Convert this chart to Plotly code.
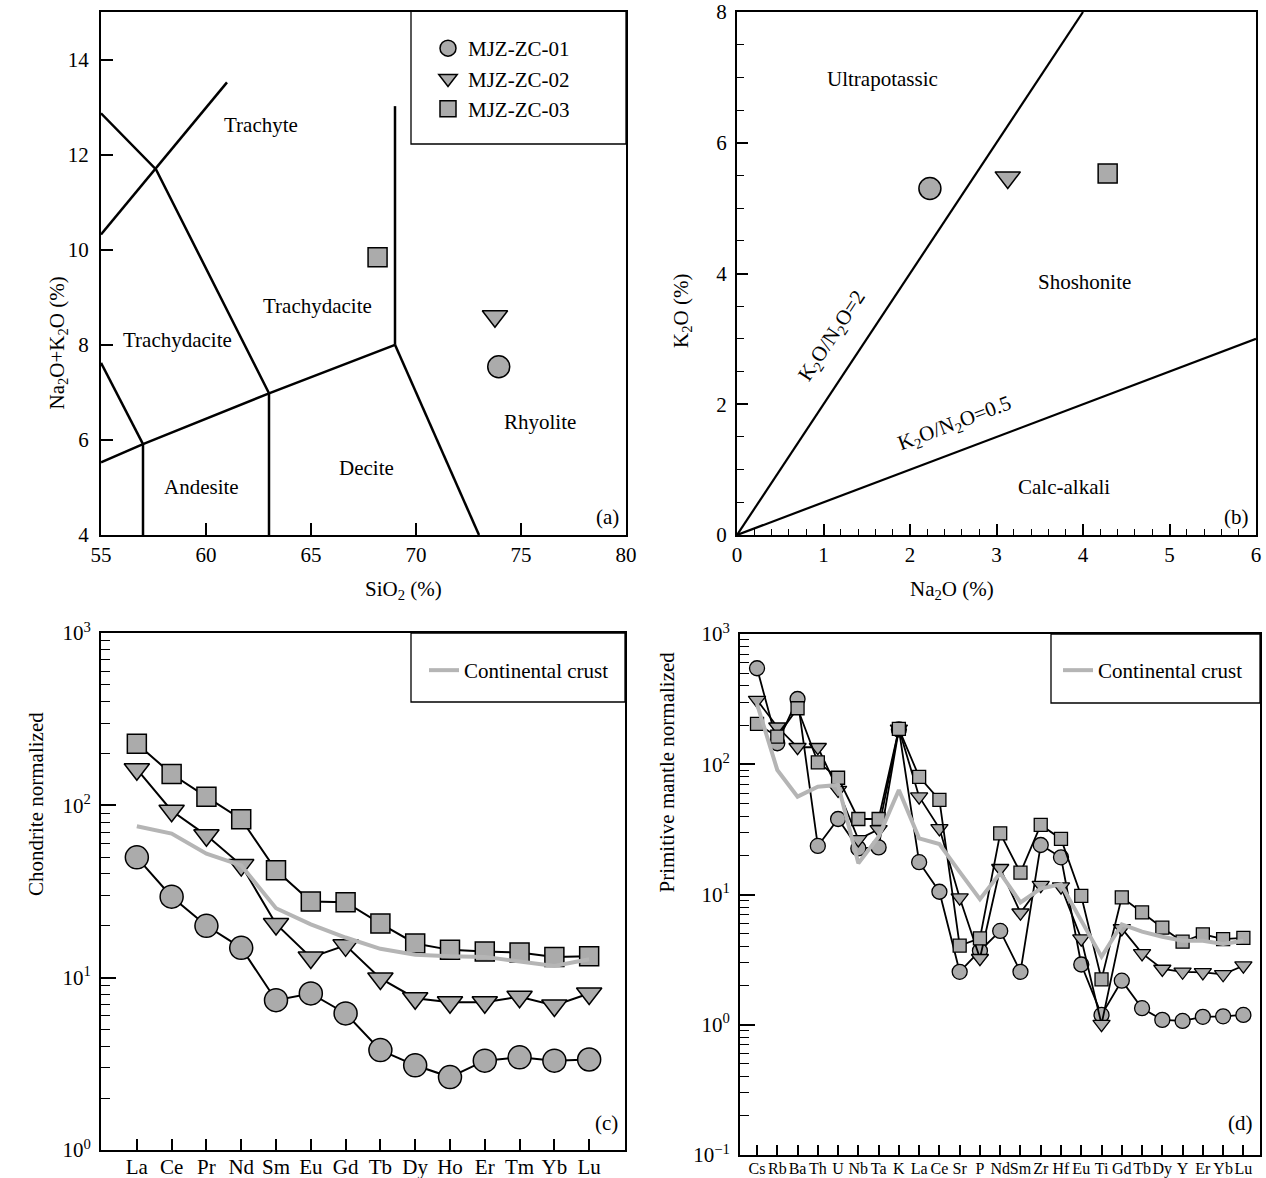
import plotly.graph_objects as go

FONT = "Liberation Serif"
GRAY = "#ababab"
CRUST = "#b5b5b5"
W, H = 1266, 1178

# ---------------- data ----------------
samples = ["MJZ-ZC-01", "MJZ-ZC-02", "MJZ-ZC-03"]
symbols = ["circle", "triangle-down", "square"]

# (a) TAS
sio2 = [73.94, 73.76, 68.17]
alkali = [7.54, 8.60, 9.84]

tas_x = [[55, 57.62, 63.0], [55, 61.0], [55, 57.0], [55, 57.0, 63.0, 69.0],
         [57.0, 57.0], [63.0, 63.0], [69.0, 69.0], [69.0, 73.0]]
tas_y = [[12.87, 11.69, 6.98], [10.32, 13.52], [7.62, 5.91], [5.53, 5.91, 6.98, 8.0],
         [5.91, 4.0], [6.98, 4.0], [8.0, 13.02], [8.0, 4.0]]
tas_names = ["Trachyte", "Trachydacite", "Trachydacite", "Andesite", "Decite", "Rhyolite"]
tas_name_x = [62.6, 65.3, 58.66, 59.8, 67.65, 75.9]
tas_name_y = [12.63, 8.81, 8.11, 5.0, 5.41, 6.38]

# (b) K2O vs Na2O
na2o = [2.23, 3.13, 4.285]
k2o = [5.30, 5.47, 5.53]
ratio_x = [[0, 4.0], [0, 6.0]]
ratio_y = [[0, 8.0], [0, 3.0]]
series_names = ["Ultrapotassic", "Shoshonite", "Calc-alkali"]
series_x = [1.68, 4.02, 3.78]
series_y = [6.98, 3.87, 0.73]

# (c) chondrite-normalized REE
ree = ["La", "Ce", "Pr", "Nd", "Sm", "Eu", "Gd", "Tb", "Dy", "Ho", "Er", "Tm", "Yb", "Lu"]
ree_01 = [49.9, 29.5, 20.0, 14.9, 7.4, 8.1, 6.2, 3.8, 3.1, 2.65, 3.3, 3.45, 3.3, 3.35]
ree_02 = [162, 93, 67, 45, 20.5, 13.1, 15.4, 9.9, 7.6, 7.2, 7.2, 7.75, 6.9, 8.1]
ree_03 = [228, 152, 112, 83, 42, 27.7, 27.4, 20.6, 15.8, 14.5, 14.2, 14.0, 13.2, 13.3]
ree_crust = [75.7, 68.6, 52.4, 44.8, 25.3, 20.4, 17.1, 14.7, 13.6, 13.3, 13.2, 12.5, 11.7, 12.8]

# (d) primitive-mantle-normalized spider diagram
spider = ["Cs", "Rb", "Ba", "Th", "U", "Nb", "Ta", "K", "La", "Ce", "Sr", "P", "Nd",
          "Sm", "Zr", "Hf", "Eu", "Ti", "Gd", "Tb", "Dy", "Y", "Er", "Yb", "Lu"]
sp_01 = [546, 145, 317, 23.6, 38, 22.6, 23.0, 185, 17.7, 10.5, 2.55, 3.7, 5.25, 2.55,
         24.0, 19.3, 2.9, 1.19, 2.18, 1.34, 1.09, 1.07, 1.15, 1.16, 1.19]
sp_02 = [311, 194, 135, 135, 63.4, 26.5, 31.6, 187, 56.4, 32.2, 9.45, 3.24, 15.9, 7.24,
         11.8, 11.5, 4.58, 1.01, 5.5, 3.53, 2.68, 2.55, 2.52, 2.44, 2.84]
sp_03 = [204, 163, 269, 103.5, 78.8, 38.0, 38.0, 187, 80, 53.2, 4.05, 4.61, 29.5, 14.7,
         34.2, 26.7, 9.75, 2.23, 9.5, 7.29, 5.56, 4.34, 4.95, 4.55, 4.65]
sp_crust = [290, 90.4, 56.4, 67.3, 69.3, 17.4, 27.8, 63.4, 27.0, 24.4, 14.9, 9.2, 14.6,
            8.7, 11.1, 12.0, 6.3, 3.33, 5.9, 5.19, 4.74, 4.42, 4.42, 4.17, 4.42]

# ---------------- figure ----------------
fig = go.Figure()

def px_x(p):
    return p / W

def px_y(p):
    return 1 - p / H

# (a) boundaries
for xs, ys in zip(tas_x, tas_y):
    fig.add_trace(go.Scatter(x=xs, y=ys, mode="lines", line=dict(color="black", width=2.5),
                             showlegend=False, hoverinfo="skip", xaxis="x", yaxis="y"))
sizes_ab = [22, 22, 19]
for i in range(3):
    fig.add_trace(go.Scatter(x=[sio2[i]], y=[alkali[i]], mode="markers", name=samples[i],
                             marker=dict(symbol=symbols[i], size=sizes_ab[i], color=GRAY,
                                         line=dict(color="black", width=1.5)),
                             xaxis="x", yaxis="y", legend="legend"))
# (b) lines and points
for xs, ys in zip(ratio_x, ratio_y):
    fig.add_trace(go.Scatter(x=xs, y=ys, mode="lines", line=dict(color="black", width=2.2),
                             showlegend=False, hoverinfo="skip", xaxis="x2", yaxis="y2"))
for i in range(3):
    fig.add_trace(go.Scatter(x=[na2o[i]], y=[k2o[i]], mode="markers", showlegend=False,
                             marker=dict(symbol=symbols[i], size=sizes_ab[i], color=GRAY,
                                         line=dict(color="black", width=1.5)),
                             xaxis="x2", yaxis="y2"))
# (c)
sizes_c = [23, 22, 19]
for vals, sym, sz in zip([ree_01, ree_02, ree_03], symbols, sizes_c):
    fig.add_trace(go.Scatter(x=ree, y=vals, mode="lines+markers", showlegend=False,
                             line=dict(color="black", width=2),
                             marker=dict(symbol=sym, size=sz, color=GRAY,
                                         line=dict(color="black", width=1.5)),
                             xaxis="x3", yaxis="y3"))
fig.add_trace(go.Scatter(x=ree, y=ree_crust, mode="lines", name="Continental crust",
                         line=dict(color=CRUST, width=4), xaxis="x3", yaxis="y3",
                         legend="legend2"))
# (d)
sizes_d = [15, 15, 13]
for vals, sym, sz in zip([sp_01, sp_02, sp_03], symbols, sizes_d):
    fig.add_trace(go.Scatter(x=spider, y=vals, mode="lines+markers", showlegend=False,
                             line=dict(color="black", width=1.8),
                             marker=dict(symbol=sym, size=sz, color=GRAY,
                                         line=dict(color="black", width=1.3)),
                             xaxis="x4", yaxis="y4"))
fig.add_trace(go.Scatter(x=spider, y=sp_crust, mode="lines", name="Continental crust",
                         line=dict(color=CRUST, width=4), xaxis="x4", yaxis="y4",
                         legend="legend3"))

tickfont = dict(family=FONT, size=21, color="black")
common = dict(showline=True, mirror=True, linecolor="black", linewidth=2, ticks="inside",
              tickcolor="black", tickwidth=1.5, showgrid=False, zeroline=False,
              tickfont=tickfont, automargin=False)

dom_a_x = [px_x(101), px_x(626)]
dom_b_x = [px_x(737), px_x(1256)]
dom_top_y = [px_y(535), px_y(12)]
dom_c_x = [px_x(101), px_x(625)]
dom_c_y = [px_y(1150), px_y(633)]
dom_d_x = [px_x(740), px_x(1260)]
dom_d_y = [px_y(1155), px_y(634)]

minor_c = [m * 10 ** k for k in range(0, 3) for m in range(2, 10)]
minor_d = [m * 10.0 ** k for k in range(-1, 3) for m in range(2, 10)]

fig.update_layout(
    width=W, height=H, margin=dict(l=0, r=0, t=0, b=0),
    paper_bgcolor="white", plot_bgcolor="white",
    font=dict(family=FONT, size=21, color="black"),
    xaxis=dict(common, domain=dom_a_x, range=[55, 80], tickvals=[55, 60, 65, 70, 75, 80],
               ticklen=12, anchor="y"),
    yaxis=dict(common, domain=dom_top_y, range=[4, 15], tickvals=[4, 6, 8, 10, 12, 14],
               ticklen=12, anchor="x", ticklabelstandoff=6),
    xaxis2=dict(common, domain=dom_b_x, range=[0, 6], dtick=1, ticklen=11, anchor="y2",
                minor=dict(dtick=0.2, ticks="inside", ticklen=6, tickcolor="black", tickwidth=1.2)),
    yaxis2=dict(common, domain=dom_top_y, range=[0, 8], dtick=2, ticklen=11, anchor="x2",
                ticklabelstandoff=4,
                minor=dict(dtick=0.5, ticks="inside", ticklen=7, tickcolor="black", tickwidth=1.2)),
    xaxis3=dict(common, domain=dom_c_x, type="category", categoryorder="array",
                categoryarray=ree, range=[-1.03, 14.03], ticklen=11, anchor="y3",
                tickangle=0, ticklabelstandoff=-3),
    yaxis3=dict(common, domain=dom_c_y, type="log", range=[0, 3],
                tickvals=[1, 10, 100, 1000],
                ticktext=["10<sup>0</sup>", "10<sup>1</sup>", "10<sup>2</sup>", "10<sup>3</sup>"],
                ticklen=15, anchor="x3", ticklabelstandoff=4,
                minor=dict(tickvals=minor_c, ticks="inside", ticklen=9, tickcolor="black",
                           tickwidth=1.2)),
    xaxis4=dict(common, domain=dom_d_x, type="category", categoryorder="array",
                categoryarray=spider, range=[-0.84, 24.82], ticklen=10, anchor="y4",
                tickangle=0, ticklabelstandoff=-2,
                tickfont=dict(family=FONT, size=16, color="black")),
    yaxis4=dict(common, domain=dom_d_y, type="log", range=[-1, 3],
                tickvals=[0.1, 1, 10, 100, 1000],
                ticktext=["10<sup>−1</sup>", "10<sup>0</sup>", "10<sup>1</sup>",
                          "10<sup>2</sup>", "10<sup>3</sup>"],
                ticklen=15, anchor="x4", ticklabelstandoff=4,
                minor=dict(tickvals=minor_d, ticks="inside", ticklen=9, tickcolor="black",
                           tickwidth=1.2)),
    legend=dict(x=px_x(428), y=px_y(28), xanchor="left", yanchor="top",
                bgcolor="rgba(0,0,0,0)", borderwidth=0, font=dict(family=FONT, size=21),
                itemsizing="trace"),
    legend2=dict(x=px_x(424), y=px_y(650), xanchor="left", yanchor="top",
                 bgcolor="rgba(0,0,0,0)", borderwidth=0, font=dict(family=FONT, size=21)),
    legend3=dict(x=px_x(1058), y=px_y(650), xanchor="left", yanchor="top",
                 bgcolor="rgba(0,0,0,0)", borderwidth=0, font=dict(family=FONT, size=21)),
)

# legend boxes
shapes = []
for (x0, y0, x1, y1) in [(411, 11, 626, 144), (411, 633, 625, 702), (1051, 634, 1260, 703)]:
    shapes.append(dict(type="rect", xref="paper", yref="paper", x0=px_x(x0), x1=px_x(x1),
                       y0=px_y(y1), y1=px_y(y0), line=dict(color="black", width=1.3),
                       fillcolor="rgba(0,0,0,0)"))
fig.update_layout(shapes=shapes)

ann = []
for t, x, y in zip(tas_names, tas_name_x, tas_name_y):
    ann.append(dict(text=t, x=x, y=y, xref="x", yref="y", showarrow=False,
                    font=dict(family=FONT, size=21)))
for t, x, y in zip(series_names, series_x, series_y):
    ann.append(dict(text=t, x=x, y=y, xref="x2", yref="y2", showarrow=False,
                    font=dict(family=FONT, size=21)))
ann.append(dict(text="K<sub>2</sub>O/N<sub>2</sub>O=2", x=1.10, y=3.05, xref="x2", yref="y2",
                showarrow=False, textangle=-56.5, font=dict(family=FONT, size=21)))
ann.append(dict(text="K<sub>2</sub>O/N<sub>2</sub>O=0.5", x=2.51, y=1.70, xref="x2", yref="y2",
                showarrow=False, textangle=-20.7, font=dict(family=FONT, size=21)))
# panel labels
for lab, xr, yr, yd in [("(a)", "x domain", "y domain", 0.034), ("(b)", "x2 domain", "y2 domain", 0.034),
                        ("(c)", "x3 domain", "y3 domain", 0.052), ("(d)", "x4 domain", "y4 domain", 0.061)]:
    ann.append(dict(text=lab, x=0.99, y=yd, xref=xr, yref=yr, xanchor="right", yanchor="middle",
                    showarrow=False, font=dict(family=FONT, size=21)))
# axis titles
ann.append(dict(text="SiO<sub>2</sub> (%)", x=px_x(363), y=px_y(590), xref="paper", yref="paper",
                showarrow=False, font=dict(family=FONT, size=21)))
ann.append(dict(text="Na<sub>2</sub>O (%)", x=px_x(996), y=px_y(590), xref="paper", yref="paper",
                showarrow=False, font=dict(family=FONT, size=21)))
ann.append(dict(text="Na<sub>2</sub>O+K<sub>2</sub>O (%)", x=px_x(42), y=px_y(275), xref="paper",
                yref="paper", showarrow=False, textangle=-90, font=dict(family=FONT, size=21)))
ann.append(dict(text="K<sub>2</sub>O (%)", x=px_x(682), y=px_y(272), xref="paper", yref="paper",
                showarrow=False, textangle=-90, font=dict(family=FONT, size=21)))
ann.append(dict(text="Chondrite normalized", x=px_x(22), y=px_y(898), xref="paper", yref="paper",
                showarrow=False, textangle=-90, font=dict(family=FONT, size=21)))
ann.append(dict(text="Primitive mantle normalized", x=px_x(666), y=px_y(895), xref="paper",
                yref="paper", showarrow=False, textangle=-90, font=dict(family=FONT, size=21)))
fig.update_layout(annotations=ann)

fig.write_html("out.html", config={"displayModeBar": False},
               post_script="document.body.style.margin='0';document.body.style.overflow='hidden';")
